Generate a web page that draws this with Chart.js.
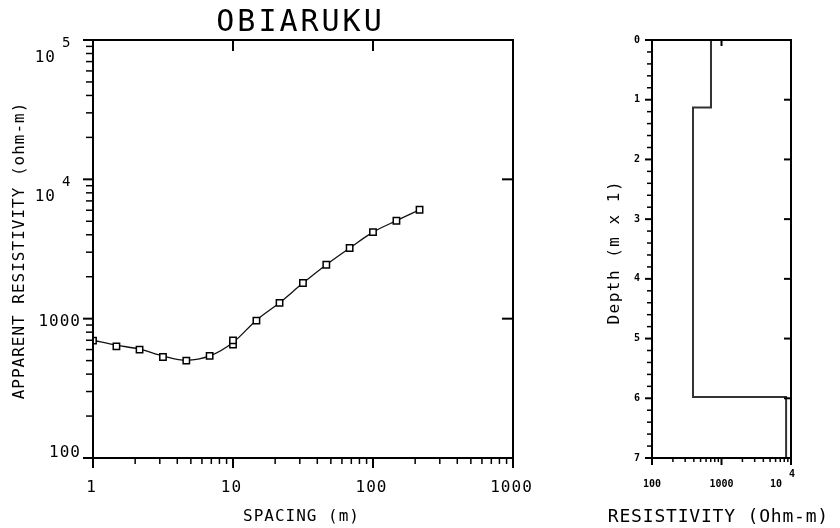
<!DOCTYPE html>
<html><head><meta charset="utf-8">
<script src="https://cdn.jsdelivr.net/npm/chart.js@4.4.1/dist/chart.umd.min.js"></script>
<style>
html,body{margin:0;padding:0;background:#fff;}
#wrap{position:relative;width:840px;height:528px;background:#fff;}
#c1{position:absolute;left:0;top:0;}
#c2{position:absolute;left:560px;top:0;}
</style></head><body>
<div id="wrap"><canvas id="c1" width="560" height="528"></canvas><canvas id="c2" width="280" height="528"></canvas></div>
<script>
// ---- data ----
const chartTitle = 'OBIARUKU';
const xTitle1 = 'SPACING (m)';
const yTitle1 = 'APPARENT RESISTIVITY (ohm-m)';
const xTitle2 = 'RESISTIVITY (Ohm-m)';
const yTitle2 = 'Depth (m x 1)';
const spacing = [1, 1.47, 2.15, 3.16, 4.64, 6.81, 10, 10, 14.7, 21.5, 31.6, 46.4, 68.1, 100, 147, 215];
const apparentRes = [695, 633, 600, 531, 500, 541, 652, 699, 969, 1297, 1803, 2438, 3212, 4178, 5048, 6044];
const curveSpacing = [1, 1.47, 2.15, 3.16, 4.64, 6.81, 10, 14.7, 21.5, 31.6, 46.4, 68.1, 100, 147, 215];
const curveRes = [700, 645, 605, 540, 503, 540, 675, 975, 1300, 1800, 2440, 3210, 4180, 5050, 6050];
const layerTops = [0, 1.13, 5.98];
const layerRes = [706, 389, 8500];
const maxDepth = 7;
const xTickVals1 = [1, 10, 100, 1000];
const xTickLabels1 = ['1', '10', '100', '1000'];
const yTickVals1 = [100, 1000, 10000, 100000];
const yTickLabels1 = ['100', '1000', ['10', '4'], ['10', '5']];
const xTickVals2 = [100, 1000, 10000];
const xTickLabels2 = ['100', '1000', ['10', '4']];
const depthTicks = [0, 1, 2, 3, 4, 5, 6, 7];
const depthLabels = ['0', '1', '2', '3', '4', '5', '6', '7'];

// ---- helpers ----
function txt(ctx, s, x, y, font, align, ls, rot) {
  ctx.save();
  ctx.font = font;
  ctx.fillStyle = '#000';
  ctx.letterSpacing = (ls || 0) + 'px';
  ctx.textAlign = align || 'center';
  ctx.textBaseline = 'middle';
  ctx.translate(x, y);
  if (rot) ctx.rotate(rot);
  ctx.fillText(s, align === 'center' || !align ? (ls || 0) / 2 : 0, 0);
  ctx.restore();
}
function line(ctx, x1, y1, x2, y2, w) {
  ctx.beginPath();
  ctx.lineWidth = w || 1.5;
  ctx.moveTo(x1, y1); ctx.lineTo(x2, y2); ctx.stroke();
}
function minorLog(lo, hi) {
  const out = [];
  for (let d = lo; d < hi; d *= 10) for (let m = 2; m <= 9; m++) out.push(m * d);
  return out;
}

const frame1 = {
  id: 'frame1',
  afterDraw(chart) {
    const ctx = chart.ctx, a = chart.chartArea, xs = chart.scales.x, ys = chart.scales.y;
    ctx.save();
    ctx.strokeStyle = '#000';
    ctx.lineWidth = 2;
    ctx.strokeRect(a.left, a.top, a.right - a.left, a.bottom - a.top);
    minorLog(1, 1000).forEach(v => { const p = xs.getPixelForValue(v); line(ctx, p, a.bottom, p, a.bottom + 6); });
    xTickVals1.forEach(v => { const p = xs.getPixelForValue(v); line(ctx, p, a.bottom, p, a.bottom + 10, 2); });
    [10, 100].forEach(v => { const p = xs.getPixelForValue(v); line(ctx, p, a.top, p, a.top + 11, 2); });
    minorLog(100, 100000).forEach(v => { const p = ys.getPixelForValue(v); line(ctx, a.left - 7, p, a.left, p); });
    yTickVals1.forEach(v => { const p = ys.getPixelForValue(v); line(ctx, a.left - 10, p, a.left, p, 2); });
    [1000, 10000].forEach(v => { const p = ys.getPixelForValue(v); line(ctx, a.right - 11, p, a.right, p, 2); });
    const f = '16px "DejaVu Sans Mono"';
    xTickVals1.forEach((v, i) => txt(ctx, xTickLabels1[i], xs.getPixelForValue(v) - 2, 488, f, 'center', 1));
    yTickVals1.forEach((v, i) => {
      const p = ys.getPixelForValue(v);
      const l = yTickLabels1[i];
      if (Array.isArray(l)) {
        txt(ctx, l[0], 56, p + 18, f, 'right', 1);
        txt(ctx, l[1], 62, p + 3, '14px "DejaVu Sans Mono"', 'left', 0);
      } else {
        txt(ctx, l, 81, p + (v === 100 ? -5 : 3), f, 'right', 1);
      }
    });
    txt(ctx, chartTitle, 299, 23, '30px "DejaVu Sans Mono"', 'center', 3);
    txt(ctx, xTitle1, 301, 517, '16px "DejaVu Sans Mono"', 'center', 1);
    txt(ctx, yTitle1, 20, 251, '16px "DejaVu Sans Mono"', 'center', 1, -Math.PI / 2);
    ctx.restore();
  }
};

const frame2 = {
  id: 'frame2',
  afterDraw(chart) {
    const ctx = chart.ctx, a = chart.chartArea, xs = chart.scales.x, ys = chart.scales.y;
    ctx.save();
    ctx.strokeStyle = '#000';
    ctx.lineWidth = 2;
    ctx.strokeRect(a.left, a.top, a.right - a.left, a.bottom - a.top);
    minorLog(100, 10000).forEach(v => { const p = xs.getPixelForValue(v); line(ctx, p, a.bottom, p, a.bottom + 4); });
    xTickVals2.forEach(v => { const p = xs.getPixelForValue(v); line(ctx, p, a.bottom, p, a.bottom + 7, 2); });
    line(ctx, xs.getPixelForValue(1000), a.top, xs.getPixelForValue(1000), a.top + 6, 2);
    for (let d = 0; d <= maxDepth * 5; d++) {
      const v = d / 5, p = ys.getPixelForValue(v);
      line(ctx, a.left - (d % 5 === 0 ? 7 : 5), p, a.left, p, d % 5 === 0 ? 2 : 1.5);
    }
    for (let d = 1; d < maxDepth; d++) { const p = ys.getPixelForValue(d); line(ctx, a.right - 7, p, a.right, p, 2); }
    const fb = 'bold 10px "DejaVu Sans Mono"';
    depthTicks.forEach((v, i) => txt(ctx, depthLabels[i], a.left - 15, ys.getPixelForValue(v), fb, 'center', 0));
    xTickVals2.forEach((v, i) => {
      const p = xs.getPixelForValue(v), l = xTickLabels2[i];
      if (Array.isArray(l)) {
        txt(ctx, l[0], p - 15, 484, fb, 'center', 0);
        txt(ctx, l[1], p + 1, 474, fb, 'center', 0);
      } else txt(ctx, l, p, 484, fb, 'center', 0);
    });
    txt(ctx, xTitle2, 158, 517, '18px "DejaVu Sans Mono"', 'center', 0.8);
    txt(ctx, yTitle2, 55, 253, '16px "DejaVu Sans Mono"', 'center', 1.5, -Math.PI / 2);
    ctx.restore();
  }
};

const common = { responsive: false, animation: false, events: [], plugins: { legend: { display: false }, tooltip: { enabled: false } } };

new Chart(document.getElementById('c1'), {
  type: 'scatter',
  data: { datasets: [
    { data: spacing.map((x, i) => ({ x, y: apparentRes[i] })), showLine: false, pointStyle: 'rect', pointRadius: 4.5, borderColor: '#000', backgroundColor: '#fff', borderWidth: 1.5 },
    { data: curveSpacing.map((x, i) => ({ x, y: curveRes[i] })), showLine: true, borderColor: '#111', borderWidth: 1.3, pointRadius: 0, cubicInterpolationMode: 'monotone' }
  ] },
  options: Object.assign({}, common, {
    layout: { padding: { left: 93, top: 40, right: 47, bottom: 70 } },
    scales: {
      x: { type: 'logarithmic', min: 1, max: 1000, display: false },
      y: { type: 'logarithmic', min: 100, max: 100000, display: false }
    }
  }),
  plugins: [frame1]
});

const stepPts = [];
layerTops.forEach((t, i) => {
  const b = i < layerTops.length - 1 ? layerTops[i + 1] : maxDepth;
  stepPts.push({ x: layerRes[i], y: t }, { x: layerRes[i], y: b });
});

new Chart(document.getElementById('c2'), {
  type: 'scatter',
  data: { datasets: [
    { data: stepPts, showLine: true, borderColor: '#333', borderWidth: 2, pointRadius: 0, tension: 0 }
  ] },
  options: Object.assign({}, common, {
    layout: { padding: { left: 92, top: 40, right: 49, bottom: 70 } },
    scales: {
      x: { type: 'logarithmic', min: 100, max: 10000, display: false },
      y: { type: 'linear', min: 0, max: maxDepth, reverse: true, display: false }
    }
  }),
  plugins: [frame2]
});
</script>
</body></html>
